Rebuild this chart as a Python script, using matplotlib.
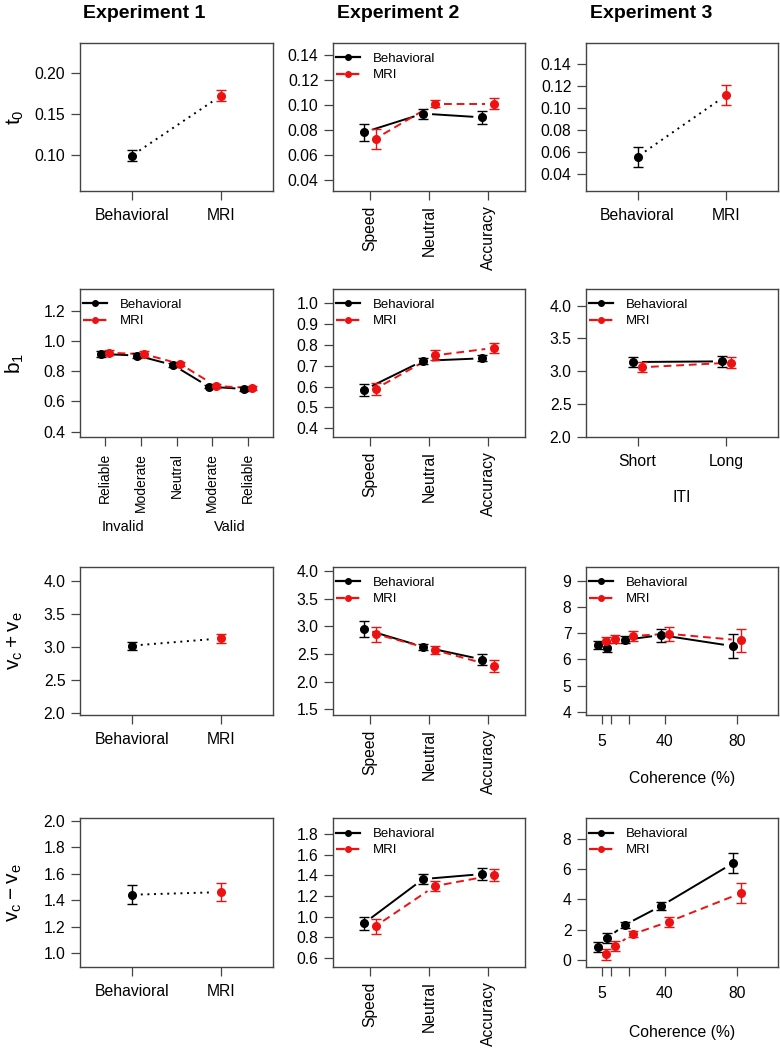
import matplotlib
matplotlib.use("Agg")
import matplotlib.pyplot as plt
import matplotlib.transforms as mtransforms
from matplotlib.lines import Line2D
import numpy as np

plt.rcParams["font.family"] = ["Liberation Sans", "DejaVu Sans"]
plt.rcParams["mathtext.default"] = "regular"

# ---- data ----
groups = ["Behavioral", "MRI"]
sat_conds = ["Speed", "Neutral", "Accuracy"]
cue_conds = ["Reliable", "Moderate", "Neutral", "Moderate", "Reliable"]
iti_levels = ["Short", "Long"]
coherence = [5, 10, 20, 40, 80]
coherence_labels = ["5", "", "", "40", "80"]

# t0
exp1_t0 = [0.099, 0.172]
exp1_t0_se = [0.007, 0.007]
exp2_t0_beh = [0.078, 0.093, 0.090]
exp2_t0_beh_se = [0.007, 0.004, 0.005]
exp2_t0_mri = [0.073, 0.101, 0.101]
exp2_t0_mri_se = [0.008, 0.003, 0.0045]
exp3_t0 = [0.056, 0.112]
exp3_t0_se = [0.009, 0.009]

# b1
exp1_b1_beh = [0.914, 0.903, 0.841, 0.698, 0.682]
exp1_b1_beh_se = [0.018, 0.018, 0.014, 0.012, 0.012]
exp1_b1_mri = [0.922, 0.912, 0.848, 0.702, 0.689]
exp1_b1_mri_se = [0.018, 0.018, 0.014, 0.012, 0.012]
exp2_b1_beh = [0.584, 0.724, 0.736]
exp2_b1_beh_se = [0.029, 0.013, 0.014]
exp2_b1_mri = [0.590, 0.750, 0.786]
exp2_b1_mri_se = [0.028, 0.024, 0.024]
exp3_b1_beh = [3.14, 3.15]
exp3_b1_beh_se = [0.076, 0.08]
exp3_b1_mri = [3.06, 3.13]
exp3_b1_mri_se = [0.08, 0.085]

# vc + ve
exp1_vsum = [3.02, 3.13]
exp1_vsum_se = [0.06, 0.065]
exp2_vsum_beh = [2.95, 2.63, 2.40]
exp2_vsum_beh_se = [0.14, 0.054, 0.093]
exp2_vsum_mri = [2.86, 2.57, 2.28]
exp2_vsum_mri_se = [0.135, 0.066, 0.105]
exp3_vsum_beh = [6.55, 6.45, 6.75, 6.93, 6.51]
exp3_vsum_beh_se = [0.15, 0.16, 0.14, 0.25, 0.47]
exp3_vsum_mri = [6.70, 6.77, 6.90, 6.98, 6.73]
exp3_vsum_mri_se = [0.17, 0.15, 0.19, 0.27, 0.43]

# vc - ve
exp1_vdiff = [1.44, 1.46]
exp1_vdiff_se = [0.07, 0.07]
exp2_vdiff_beh = [0.934, 1.365, 1.414]
exp2_vdiff_beh_se = [0.065, 0.049, 0.054]
exp2_vdiff_mri = [0.908, 1.297, 1.404]
exp2_vdiff_mri_se = [0.073, 0.05, 0.055]
exp3_vdiff_beh = [0.855, 1.47, 2.34, 3.57, 6.38]
exp3_vdiff_beh_se = [0.32, 0.30, 0.20, 0.25, 0.66]
exp3_vdiff_mri = [0.39, 0.96, 1.73, 2.54, 4.41]
exp3_vdiff_mri_se = [0.35, 0.32, 0.22, 0.34, 0.66]

W, H = 780, 1048
fig = plt.figure(figsize=(W / 100, H / 100), dpi=100)

cols = [(80, 273), (333, 525), (586, 778)]
rows = [(43, 191), (289, 437), (567, 715), (818, 967)]
BOX = "#444444"
RED = "#ee1111"
DOT = (0, (1, 2.4))
DASH = (0, (4, 2.5))


def panel(c, r):
    l, rr = cols[c]
    t, b = rows[r]
    return fig.add_axes([l / W, 1 - b / H, (rr - l) / W, (b - t) / H])


def style(ax, xlim, ylim, xt, xl, yt, fmt, rot=False, xpad=6, xsize=11.3):
    ax.set_xlim(xlim)
    ax.set_ylim(ylim)
    ax.set_xticks(xt)
    ax.set_xticklabels(xl, rotation=90 if rot else 0, va="top", fontsize=xsize)
    ax.set_yticks(yt)
    ax.set_yticklabels([fmt.format(v) for v in yt], fontsize=11.3)
    for s in ax.spines.values():
        s.set_color(BOX)
        s.set_linewidth(1)
    ax.tick_params(direction="out", length=6.5, width=0.9, color=BOX)
    ax.tick_params(axis="y", pad=4)
    ax.tick_params(axis="x", pad=xpad)


def gap_line(ax, x, y, color, ls, gap=9):
    # R type="b": segments between points with a gap at each point
    pts = ax.transData.transform(np.column_stack([x, y]))
    inv = ax.transData.inverted()
    for p, q in zip(pts[:-1], pts[1:]):
        d = q - p
        L = np.hypot(*d)
        if L <= 2 * gap + 1:
            continue
        u = d / L
        a, b = inv.transform(np.array([p + u * gap, q - u * gap]))
        ax.plot([a[0], b[0]], [a[1], b[1]], color=color, lw=1.4, ls=ls,
                solid_capstyle="butt", dash_capstyle="butt", zorder=2)


def points(ax, x, y, se, color):
    ax.errorbar(x, y, yerr=se, fmt="o", color=color, ms=5.5, capsize=3.5,
                elinewidth=1, capthick=1, zorder=3)


def legend(ax):
    h = [Line2D([], [], color="black", ls="-", lw=1.6, marker="o", ms=4),
         Line2D([], [], color=RED, ls=DASH, lw=1.6, marker="o", ms=4)]
    ax.legend(h, ["Behavioral", "MRI"], loc="upper left", frameon=False,
              bbox_to_anchor=(-0.005, 0.96),
              fontsize=9.5, handlelength=1.8, handletextpad=1.0,
              borderaxespad=0.0, borderpad=0.3, labelspacing=0.3)


def two_group(ax, vals, se, xlim, ylim, yt, fmt, labels):
    style(ax, xlim, ylim, [1, 2], labels, yt, fmt)
    gap_line(ax, [1, 2], vals, "black", DOT)
    points(ax, [1], vals[:1], se[:1], "black")
    points(ax, [2], vals[1:], se[1:], RED)


def paired(ax, x, beh, beh_se, mri, mri_se, off):
    xb = np.array(x, float) - off
    xm = np.array(x, float) + off
    gap_line(ax, xb, beh, "black", "-")
    gap_line(ax, xm, mri, RED, DASH)
    points(ax, xb, beh, beh_se, "black")
    points(ax, xm, mri, mri_se, RED)
    legend(ax)


x2 = [1, 2]
x3 = [1, 2, 3]
x5 = [1, 2, 3, 4, 5]

# ---- row 1 : t0 ----
ax = panel(0, 0)
two_group(ax, exp1_t0, exp1_t0_se, (0.42, 2.58), (0.056, 0.236),
          [0.10, 0.15, 0.20], "{:.2f}", groups)

ax = panel(1, 0)
style(ax, (0.38, 3.62), (0.031, 0.1496), x3, sat_conds,
      [0.04, 0.06, 0.08, 0.10, 0.12, 0.14], "{:.2f}", rot=True, xpad=4)
paired(ax, x3, exp2_t0_beh, exp2_t0_beh_se, exp2_t0_mri, exp2_t0_mri_se, 0.1)

ax = panel(2, 0)
two_group(ax, exp3_t0, exp3_t0_se, (0.42, 2.58), (0.0248, 0.1594),
          [0.04, 0.06, 0.08, 0.10, 0.12, 0.14], "{:.2f}", groups)

# ---- row 2 : b1 ----
ax = panel(0, 1)
style(ax, (0.3, 5.7), (0.365, 1.343), x5, cue_conds,
      [0.4, 0.6, 0.8, 1.0, 1.2], "{:.1f}", rot=True, xpad=5, xsize=10)
paired(ax, x5, exp1_b1_beh, exp1_b1_beh_se, exp1_b1_mri, exp1_b1_mri_se, 0.1)
tr = mtransforms.blended_transform_factory(ax.transData, fig.transFigure)
ax.text(1.5, 1 - 527 / H, "Invalid", transform=tr, ha="center", va="center", fontsize=10.5)
ax.text(4.5, 1 - 527 / H, "Valid", transform=tr, ha="center", va="center", fontsize=10.5)

ax = panel(1, 1)
style(ax, (0.38, 3.62), (0.358, 1.069), x3, sat_conds,
      [0.4, 0.5, 0.6, 0.7, 0.8, 0.9, 1.0], "{:.1f}", rot=True, xpad=4)
paired(ax, x3, exp2_b1_beh, exp2_b1_beh_se, exp2_b1_mri, exp2_b1_mri_se, 0.1)

ax = panel(2, 1)
style(ax, (0.42, 2.58), (1.995, 4.255), x2, iti_levels,
      [2.0, 2.5, 3.0, 3.5, 4.0], "{:.1f}")
paired(ax, x2, exp3_b1_beh, exp3_b1_beh_se, exp3_b1_mri, exp3_b1_mri_se, 0.05)
tr = mtransforms.blended_transform_factory(ax.transAxes, fig.transFigure)
ax.text(0.5, 1 - 497 / H, "ITI", transform=tr, ha="center", va="center", fontsize=11.3)

# ---- row 3 : vc + ve ----
ax = panel(0, 2)
two_group(ax, exp1_vsum, exp1_vsum_se, (0.42, 2.58), (1.974, 4.207),
          [2.0, 2.5, 3.0, 3.5, 4.0], "{:.1f}", groups)

ax = panel(1, 2)
style(ax, (0.38, 3.62), (1.397, 4.072), x3, sat_conds,
      [1.5, 2.0, 2.5, 3.0, 3.5, 4.0], "{:.1f}", rot=True, xpad=4)
paired(ax, x3, exp2_vsum_beh, exp2_vsum_beh_se, exp2_vsum_mri, exp2_vsum_mri_se, 0.1)

ax = panel(2, 2)
style(ax, (-4, 103), (3.874, 9.536), coherence, coherence_labels,
      [4, 5, 6, 7, 8, 9], "{:d}", xpad=7)
paired(ax, coherence, exp3_vsum_beh, exp3_vsum_beh_se, exp3_vsum_mri, exp3_vsum_mri_se, 2.2)
tr = mtransforms.blended_transform_factory(ax.transAxes, fig.transFigure)
ax.text(0.5, 1 - 778 / H, "Coherence (%)", transform=tr, ha="center", va="center", fontsize=11.3)

# ---- row 4 : vc - ve ----
ax = panel(0, 3)
two_group(ax, exp1_vdiff, exp1_vdiff_se, (0.42, 2.58), (0.894, 2.02),
          [1.0, 1.2, 1.4, 1.6, 1.8, 2.0], "{:.1f}", groups)

ax = panel(1, 3)
style(ax, (0.38, 3.62), (0.51, 1.959), x3, sat_conds,
      [0.6, 0.8, 1.0, 1.2, 1.4, 1.6, 1.8], "{:.1f}", rot=True, xpad=4)
paired(ax, x3, exp2_vdiff_beh, exp2_vdiff_beh_se, exp2_vdiff_mri, exp2_vdiff_mri_se, 0.1)

ax = panel(2, 3)
style(ax, (-4, 103), (-0.44, 9.36), coherence, coherence_labels,
      [0, 2, 4, 6, 8], "{:d}", xpad=7)
paired(ax, coherence, exp3_vdiff_beh, exp3_vdiff_beh_se, exp3_vdiff_mri, exp3_vdiff_mri_se, 2.2)
tr = mtransforms.blended_transform_factory(ax.transAxes, fig.transFigure)
ax.text(0.5, 1 - 1032 / H, "Coherence (%)", transform=tr, ha="center", va="center", fontsize=11.3)

# ---- titles and row labels ----
for x, t in zip([144, 398, 651], ["Experiment 1", "Experiment 2", "Experiment 3"]):
    fig.text(x / W, 1 - 14 / H, t, ha="center", va="center", fontsize=14, fontweight="bold")

row_labels = [r"$t_0$", r"$b_1$", r"$v_c + v_e$", r"$v_c - v_e$"]
for (t, b), lab in zip(rows, row_labels):
    fig.text(15 / W, 1 - (t + b) / 2 / H, lab, rotation=90, ha="center", va="center", fontsize=15)

fig.savefig("out.png", dpi=100)
